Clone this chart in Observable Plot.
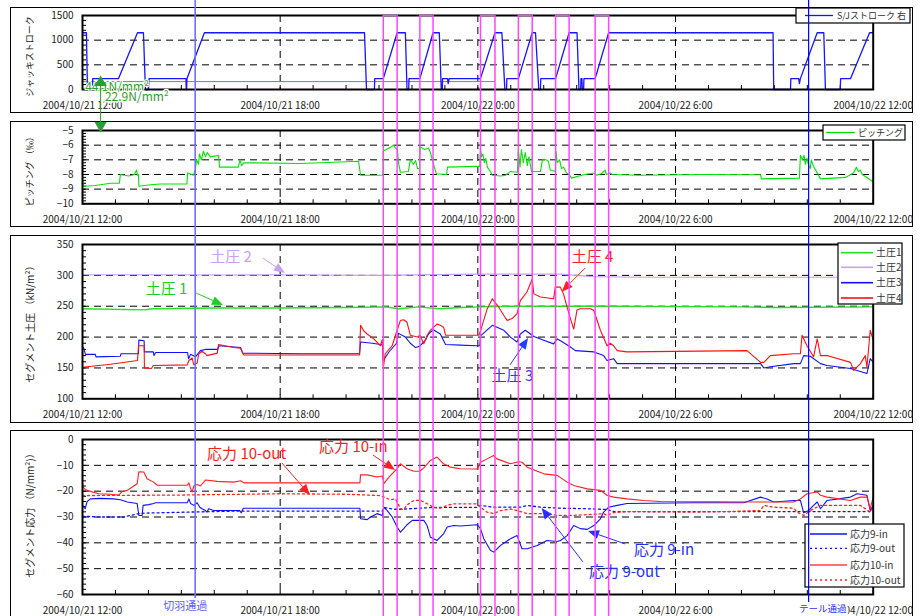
<!DOCTYPE html>
<html><head><meta charset="utf-8">
<script src="https://cdn.jsdelivr.net/npm/d3@7"></script>
<script src="https://cdn.jsdelivr.net/npm/@observablehq/plot@0.6"></script>
<style>
body{margin:0;background:#fff;}
#root{position:relative;width:924px;height:616px;overflow:hidden;background:#fff;font-family:"Noto Sans CJK JP",sans-serif;}
.frame{position:absolute;border:1.5px solid #000;box-sizing:border-box;background:#fff;}
.panel{position:absolute;left:0;}
</style></head><body><div id="root"></div>
<script>
// ---------- data (hours since 2004/10/21 12:00, value) ----------
const jackStroke = [[0,1150],[0.12,1150],[0.15,0],[0.30,0],[0.31,220],[1.09,220],[1.67,1150],[1.85,1150],[1.91,0],[2.00,0],[2.02,220],[3.14,220],[3.15,0],[3.16,0],[3.17,220],[3.70,1150],[8.56,1150],[8.62,0],[8.86,0],[8.87,220],[9.13,220],[9.55,1150],[9.80,1150],[9.85,0],[9.90,0],[9.91,220],[10.24,220],[10.64,1150],[10.83,1150],[10.89,0],[10.92,0],[10.93,220],[11.08,220],[11.10,120],[11.13,220],[12.08,220],[12.52,1150],[12.73,1150],[12.82,0],[12.87,0],[12.88,220],[13.23,220],[13.65,1150],[13.75,1150],[13.85,0],[13.90,0],[13.91,220],[14.36,220],[14.77,1150],[15.01,1150],[15.07,0],[15.12,0],[15.13,220],[15.16,220],[15.17,0],[15.21,0],[15.22,220],[15.56,220],[15.97,1150],[20.96,1150],[20.98,0],[21.49,0],[21.50,220],[21.74,220],[21.76,120],[21.79,220],[22.30,1150],[22.50,1150],[22.55,0],[23.00,0],[23.01,220],[23.31,220],[23.89,1150],[24.0,1150]];
const greenRef = [[0,160],[12.5,160]];
const pitching = [[0,-8.0],[0.02,-8.8],[0.39,-8.75],[0.85,-8.6],[1.12,-8.6],[1.15,-8.0],[1.40,-8.1],[1.58,-8.0],[1.64,-7.7],[1.67,-8.05],[1.70,-8.0],[1.71,-8.8],[2.06,-8.7],[2.37,-8.65],[3.17,-8.65],[3.19,-7.9],[3.37,-8.05],[3.43,-7.6],[3.46,-7.0],[3.52,-7.3],[3.55,-6.6],[3.61,-7.0],[3.67,-6.4],[3.73,-6.8],[3.79,-6.5],[3.88,-6.8],[4.00,-6.75],[4.13,-6.7],[4.16,-7.5],[4.73,-7.5],[4.78,-7.0],[4.83,-7.4],[4.89,-7.2],[6.62,-7.25],[7.83,-7.15],[8.38,-7.1],[8.44,-8.05],[9.12,-8.05],[9.13,-6.4],[9.22,-6.3],[9.35,-6.15],[9.44,-6.0],[9.50,-6.2],[9.56,-6.3],[9.59,-7.2],[9.65,-7.85],[9.89,-7.8],[9.95,-7.0],[10.05,-7.3],[10.11,-7.05],[10.17,-7.6],[10.23,-7.6],[10.24,-6.1],[10.38,-6.3],[10.50,-6.2],[10.56,-6.5],[10.62,-7.0],[10.68,-7.5],[10.74,-7.95],[11.05,-8.0],[11.08,-7.5],[11.96,-7.45],[12.06,-7.45],[12.08,-6.2],[12.11,-6.8],[12.15,-6.6],[12.20,-7.2],[12.24,-6.9],[12.29,-7.5],[12.38,-7.8],[12.44,-8.05],[12.69,-8.1],[12.84,-8.05],[12.99,-7.8],[13.20,-7.85],[13.23,-6.3],[13.28,-7.5],[13.32,-6.3],[13.38,-7.2],[13.44,-6.5],[13.50,-7.4],[13.55,-6.8],[13.63,-7.8],[13.90,-7.8],[13.96,-7.0],[14.08,-7.0],[14.14,-7.1],[14.20,-7.7],[14.35,-7.8],[14.37,-6.4],[14.41,-7.2],[14.48,-7.0],[14.54,-7.6],[14.60,-7.5],[14.69,-7.9],[14.78,-8.0],[14.84,-8.25],[15.24,-8.0],[15.54,-7.9],[15.60,-8.05],[15.75,-7.95],[15.86,-7.7],[15.90,-8.0],[16.02,-7.9],[16.08,-8.0],[16.93,-8.05],[18.76,-8.0],[20.58,-8.02],[20.61,-8.3],[21.76,-8.25],[21.79,-6.7],[21.85,-7.0],[21.90,-6.7],[21.94,-7.3],[21.99,-6.9],[22.03,-7.3],[22.09,-7.6],[22.12,-7.0],[22.18,-7.4],[22.40,-8.3],[23.16,-8.2],[23.40,-7.9],[23.49,-7.5],[23.55,-7.8],[23.61,-7.7],[23.67,-8.0],[24.0,-8.5]];
const soil1 = [[0,246],[1.9,244],[2.1,246],[4,247],[6,247],[8,248],[9.2,249],[9.6,246],[10.2,249],[10.8,246],[11.5,248],[12.1,249],[13,250],[16,250],[20,249],[21,248],[24,249]];
const soil2 = [[0,301],[2,301],[4.5,300.5],[6,301],[9,300],[12,302],[14.5,302],[15.5,298],[17,297],[24,297]];
const soil3 = [[0,183],[0.03,183],[0.09,172],[0.39,172],[0.41,168],[1.15,169],[1.17,173],[1.70,173],[1.71,195],[1.87,194],[1.88,176],[2.15,176],[2.17,170],[2.22,175],[3.19,175],[3.22,165],[3.28,172],[3.43,168],[3.58,178],[3.73,180],[4.11,180],[4.13,186],[4.80,183],[4.86,174],[6.62,173],[8.41,173],[8.44,192],[8.80,190],[9.04,188],[9.12,187],[9.13,162],[9.29,175],[9.53,190],[9.59,206],[9.80,200],[9.95,190],[10.11,183],[10.23,185],[10.41,195],[10.50,205],[10.65,212],[10.86,205],[11.02,188],[11.47,187],[11.96,186],[12.06,186],[12.08,202],[12.44,219],[12.79,211],[12.99,200],[13.19,192],[13.29,205],[13.44,211],[13.70,201],[14.00,195],[14.30,189],[14.41,197],[14.51,194],[14.81,184],[14.96,178],[15.52,176],[15.82,170],[15.92,162],[16.12,165],[16.23,157],[17.95,157],[20.58,157],[20.68,150],[20.88,152],[21.59,157],[21.79,157],[21.89,170],[22.09,169],[22.40,157],[22.60,154],[23.31,149],[23.81,141],[23.91,165],[24.0,159]];
const soil4 = [[0,151],[0.85,156],[1.67,162],[1.70,186],[1.87,186],[1.88,150],[2.09,149],[2.15,154],[3.18,155],[3.23,162],[3.33,166],[3.38,155],[3.48,158],[3.53,173],[3.63,177],[3.73,173],[3.78,170],[4.09,174],[4.13,188],[4.59,183],[4.80,182],[4.88,172],[4.90,171],[8.41,171],[8.44,219],[8.54,210],[8.64,205],[8.84,197],[9.04,186],[9.10,196],[9.13,150],[9.19,173],[9.40,186],[9.55,211],[9.65,227],[9.75,228],[9.85,224],[9.95,203],[10.16,200],[10.24,203],[10.36,189],[10.46,203],[10.56,211],[10.66,216],[10.76,221],[10.86,219],[10.96,216],[11.02,203],[11.47,203],[12.03,203],[12.08,210],[12.28,245],[12.44,262],[12.48,259],[12.64,248],[12.79,235],[12.89,227],[13.04,230],[13.19,238],[13.29,259],[13.49,273],[13.65,294],[13.70,270],[13.90,265],[14.30,262],[14.35,281],[14.50,281],[14.60,270],[14.71,248],[14.81,230],[14.91,213],[15.01,244],[15.11,246],[15.42,246],[15.52,243],[15.72,211],[15.92,186],[16.02,190],[16.12,186],[16.23,178],[16.53,176],[20.17,178],[20.58,159],[20.68,159],[20.88,170],[21.59,173],[21.79,173],[21.84,203],[21.99,186],[22.19,168],[22.30,197],[22.40,170],[22.60,170],[23.31,159],[23.41,146],[23.61,157],[23.76,170],[23.81,151],[23.91,211],[24.0,195]];
const stress9in = [[0,-25.5],[0.08,-26.8],[0.14,-24],[0.24,-23],[0.55,-22.8],[0.95,-23],[1.15,-23.3],[1.36,-24.2],[1.66,-24.8],[1.71,-29.4],[1.81,-29.4],[1.84,-25.5],[2.01,-25.2],[2.16,-24.8],[2.22,-24.5],[3.18,-24.5],[3.23,-23],[3.28,-24.8],[3.38,-25.5],[3.48,-24.5],[3.56,-26.2],[3.63,-26.8],[3.73,-27.5],[3.78,-28.1],[3.83,-26.8],[3.98,-27.5],[4.77,-27.5],[4.82,-28.4],[4.88,-26.6],[8.42,-26.6],[8.44,-30.7],[8.64,-31],[8.74,-30],[8.94,-28.7],[9.10,-29.4],[9.15,-26.2],[9.25,-27.5],[9.40,-30],[9.55,-33.9],[9.65,-35.9],[9.75,-34.5],[9.85,-33],[10.01,-31.3],[10.36,-31.3],[10.46,-33.3],[10.56,-37.8],[10.66,-38.4],[10.76,-39.1],[10.86,-37.8],[10.96,-36.5],[11.07,-33.9],[11.27,-33.3],[11.47,-33.5],[11.98,-33],[12.08,-34.5],[12.18,-38.4],[12.38,-42.9],[12.48,-43.6],[12.69,-41],[12.99,-38.4],[13.19,-37.2],[13.34,-42.3],[13.50,-42.3],[13.80,-41],[14.10,-39.1],[14.41,-39.5],[14.51,-39.1],[14.71,-37.2],[14.91,-33.3],[15.11,-34.5],[15.32,-34.8],[15.52,-33.3],[15.72,-30.7],[15.82,-28.1],[15.97,-26.2],[16.23,-25.5],[16.53,-24.8],[18.55,-24.5],[20.07,-24.5],[20.58,-22.3],[20.78,-23],[20.98,-24.2],[21.59,-23.6],[21.79,-23.6],[21.89,-28.4],[22.04,-27.5],[22.19,-25.5],[22.30,-24.2],[22.40,-26.8],[22.60,-23.6],[23.31,-22.3],[23.51,-21],[23.81,-21.6],[23.91,-27.5],[24.0,-25.5]];
const stress9out = [[0,-29.7],[0.55,-30],[1.25,-30],[1.66,-28.8],[1.86,-28.5],[3.58,-28],[4.80,-27.7],[9.10,-27.7],[9.15,-26.3],[9.45,-27],[9.65,-27],[10.66,-26.3],[11.98,-26.3],[12.08,-25.5],[12.48,-26.2],[13.29,-26.2],[13.50,-25.5],[13.90,-26.2],[14.51,-26.6],[15.32,-26.8],[15.92,-27.1],[16.12,-27.9],[24.0,-27.9]];
const stress10in = [[0,-17],[0.05,-19],[0.14,-19.7],[0.49,-21],[0.85,-21.2],[1.10,-21.5],[1.20,-20.2],[1.36,-19.7],[1.51,-18.4],[1.66,-17.1],[1.71,-12.5],[1.86,-12.6],[1.96,-15.2],[2.16,-16.5],[2.27,-17.7],[3.18,-17.7],[3.23,-16.8],[3.28,-19],[3.33,-20.3],[3.38,-18],[3.48,-17.4],[3.58,-18],[3.73,-15.7],[4.09,-16.2],[4.59,-16.5],[4.80,-16],[4.90,-16.8],[8.42,-16.8],[8.44,-13.7],[8.64,-13.7],[8.94,-14.5],[9.10,-14.1],[9.15,-17],[9.35,-13.9],[9.55,-11.3],[9.65,-9.4],[9.85,-11.3],[10.06,-12.3],[10.24,-12.3],[10.36,-11],[10.56,-8.1],[10.76,-6.8],[10.96,-9.4],[11.17,-10.7],[11.47,-11.3],[11.96,-11.4],[11.99,-11.5],[12.03,-10.1],[12.08,-8.8],[12.28,-7.5],[12.48,-6.2],[12.58,-7.5],[12.99,-9.4],[13.24,-8.6],[13.34,-8.8],[13.50,-10.7],[14.00,-13.3],[14.41,-13.9],[14.71,-16.5],[14.91,-17.8],[15.32,-19.1],[15.72,-19.7],[15.92,-21.6],[16.12,-22.3],[16.53,-23],[17.04,-23.6],[17.54,-24],[20.58,-24.2],[21.59,-24.2],[21.79,-23],[21.99,-21],[22.30,-20.3],[22.40,-21.6],[22.60,-22.3],[23.31,-23.6],[23.61,-22.3],[23.81,-22.3],[23.91,-26.8],[24.0,-22.3]];
const stress10out = [[0,-21.7],[3.0,-21.5],[6.0,-21.0],[8.0,-21.2],[9.04,-21.7],[9.15,-22.3],[9.35,-23.3],[9.50,-23],[9.55,-24.2],[9.65,-26.8],[9.75,-27.2],[9.85,-25.3],[10.06,-23.6],[10.26,-23.6],[10.36,-24.2],[10.56,-25.5],[10.66,-26.4],[10.86,-26.6],[11.07,-25.5],[11.27,-24.9],[11.96,-24.9],[12.08,-26.2],[12.28,-28.1],[12.48,-28.7],[12.69,-27.5],[12.99,-26.9],[13.19,-27.5],[13.50,-28.7],[14.10,-28.7],[14.41,-29.4],[14.81,-29.4],[15.32,-29.1],[15.82,-28.7],[15.92,-29.4],[16.12,-28.3],[16.53,-27.9],[18.55,-28.1],[19.56,-27.9],[20.58,-27.5],[20.68,-25.5],[20.98,-26.2],[21.59,-26.6],[21.69,-28.1],[21.89,-29.4],[22.09,-27.5],[22.40,-25.5],[22.60,-25.5],[23.61,-25.5],[23.91,-28.1],[24.0,-26.2]];

// events (hours)
const cutPairs = [[9.13,9.55],[10.24,10.64],[12.08,12.52],[13.23,13.65],[14.36,14.77],[15.56,15.97]];
const passEvents = [{label:"切羽通過", h:3.42}, {label:"テール通過", h:22.04}];

// tick labels & names
const yTitles = ["ジャッキストローク", "ピッチング （‰）", "セグメント土圧 （kN/m²）", "セグメント応力 （N/mm²)）"];
const jackName = "S/Jストローク 右", pitchName = "ピッチング";
const soilNames = ["土圧1","土圧2","土圧3","土圧4"];
const stressNames = ["応力9-in","応力9-out","応力10-in","応力10-out"];
const greenNotes = [{label:"44.1N/mm²", h:1.05}, {label:"22.9N/mm²", h:1.65}];
const greenArrowH = 0.55;
const soilNotes = [
 {text:"土圧 2", h:4.51, v:329, color:"#c8a0f0", from:[5.49,327], to:[6.16,303]},
 {text:"土圧 1", h:2.55, v:277, color:"#22cc22", from:[3.46,270.6], to:[4.28,251.2]},
 {text:"土圧 4", h:15.48, v:329, color:"#ff2020", from:[15.27,311], to:[14.56,272.7]},
 {text:"土圧 3", h:13.05, v:136, color:"#2040ff", from:[12.99,154], to:[13.54,197.7]}];
const stressNotes = [
 {text:"応力 10-out", h:4.98, v:-5.8, color:"#ff2020", from:[6.07,-9.3], to:[6.92,-21.7]},
 {text:"応力 10-in", h:8.22, v:-3.0, color:"#ff2020", from:[8.83,-6.2], to:[9.50,-12.0]},
 {text:"応力 9-in", h:17.65, v:-43, color:"#2030ff", from:[16.48,-40.6], to:[15.36,-35.6]},
 {text:"応力 9-out", h:16.45, v:-51.4, color:"#2030ff", from:[15.2,-47.5], to:[13.95,-26.7]}];

// ---------- helpers ----------
const T0 = Date.UTC(2004, 9, 21, 12);
const t = h => new Date(T0 + h * 3600e3);
const rows = a => a.map(([h, v]) => ({t: t(h), v}));
const fmt = d3.utcFormat("%Y/%m/%d %-H:%M");
const W = 924, ML = 82, MR = 51.3, innerW = W - ML - MR;
const hourTicks = d3.range(0, 25).map(t);
const labelTicks = [0, 6, 12, 18, 24].map(t);
const gridTicks = [6, 12, 18].map(t);
const FONT = "'Noto Sans CJK JP', sans-serif";
const MAG = "#ff44ff";

function legendMark(svgTop, box, items, o) {
  return () => {
    const g = d3.create("svg:g").attr("font-family", FONT).attr("text-anchor", "start");
    g.append("rect").attr("x", box.x).attr("y", box.y - svgTop).attr("width", box.w).attr("height", box.h)
      .attr("fill", "white").attr("stroke", "#000").attr("stroke-width", 1.2);
    for (const r of items) {
      const y = r.y - svgTop;
      g.append("line").attr("x1", o.lx1).attr("x2", o.lx2).attr("y1", y).attr("y2", y)
        .attr("stroke", r.color).attr("stroke-width", r.width || 1.3).attr("stroke-dasharray", r.dash || null);
      g.append("text").attr("x", o.tx).attr("y", y).attr("dy", "0.36em").attr("font-size", o.fs)
        .attr("text-anchor", "start").attr("fill", "#333").text(r.label);
    }
    return g.node();
  };
}
function arrowsMark(notes) {
  return (index, {x, y}) => {
    const g = d3.create("svg:g");
    for (const n of notes) {
      const x1 = x(t(n.from[0])), y1 = y(n.from[1]), x2 = x(t(n.to[0])), y2 = y(n.to[1]);
      const a = Math.atan2(y2 - y1, x2 - x1), L = 11, Wd = 4.5;
      const bx = x2 - L * Math.cos(a), by = y2 - L * Math.sin(a);
      g.append("line").attr("x1", x1).attr("y1", y1).attr("x2", bx).attr("y2", by)
        .attr("stroke", n.color).attr("stroke-width", 1);
      g.append("path").attr("fill", n.color)
        .attr("d", `M${x2},${y2}L${bx - Wd * Math.sin(a)},${by + Wd * Math.cos(a)}L${bx + Wd * Math.sin(a)},${by - Wd * Math.cos(a)}Z`);
    }
    return g.node();
  };
}
function eventMarks(mt, mb, first, last) {
  const cutTimes = cutPairs.flat().map(h => ({t: t(h)}));
  const m = [
    Plot.ruleX(cutTimes, {x: "t", stroke: MAG, strokeWidth: 1.5, insetTop: first ? 0 : -mt, insetBottom: -mb})
  ];
  if (first) m.push(Plot.ruleY(cutPairs.map(([a, b]) => ({a: t(a), b: t(b)})), {x1: "a", x2: "b", y: 1500, stroke: MAG, strokeWidth: 1.5}));
  m.push(Plot.ruleX([passEvents[0]], {x: d => t(d.h), stroke: "#7070ff", strokeWidth: 1.6, insetTop: -mt, insetBottom: last ? -4 : -mb}));
  m.push(Plot.ruleX([passEvents[1]], {x: d => t(d.h), stroke: "#0000ff", strokeWidth: 1.2, insetTop: -mt, insetBottom: last ? -8 : -mb}));
  return m;
}
function panel(cfg) {
  const {top, height, mt, mb, yDomain, yTicks, yGrid, yMinor, title, marks} = cfg;
  const innerH = height - mt - mb;
  const svg = Plot.plot({
    width: W, height, marginTop: mt, marginBottom: mb, marginLeft: ML, marginRight: MR,
    x: {type: "utc", domain: [t(0), t(24)]},
    y: {domain: yDomain},
    style: `background: transparent; overflow: visible; font-family: ${FONT}; font-size: 10px; color: #222;`,
    marks: [
      Plot.gridX(gridTicks, {stroke: "#000", strokeOpacity: 1, strokeDasharray: "7,5"}),
      Plot.gridY(yGrid, {stroke: "#000", strokeOpacity: 1, strokeDasharray: "7,5"}),
      Plot.tickX(hourTicks, {x: d => d, insetTop: innerH - 4, stroke: "#000"}),
      Plot.tickY(yMinor, {y: d => d, insetRight: innerW - 4, stroke: "#000"}),
      Plot.axisX(labelTicks, {tickSize: 0, tickPadding: 12, tickFormat: fmt, fontSize: 10, label: null}),
      Plot.axisY(yTicks, {tickSize: 0, tickPadding: 9, fontSize: 10, label: null, tickFormat: d3.format("d")}),
      Plot.text([title], {frameAnchor: "left", textAnchor: "middle", lineAnchor: "middle", dx: -52, dy: cfg.titleDy || 0, rotate: -90, fontSize: cfg.titleSize || 9.5, fill: "#222"}),
      ...marks(innerH),
      Plot.frame({stroke: "#000", strokeWidth: 2}),
      ...(cfg.overlay ? cfg.overlay(innerH) : [])
    ]
  });
  svg.classList.add("panel");
  svg.style.top = top + "px";
  return svg;
}

const root = document.getElementById("root");
for (const [top, h] of [[7, 106], [121, 106], [235, 188], [430, 190]]) {
  const d = document.createElement("div");
  d.className = "frame";
  Object.assign(d.style, {left: "10px", top: top + "px", width: "903px", height: h + "px"});
  root.appendChild(d);
}

// Panel 1
root.appendChild(panel({
  top: 0, height: 117, mt: 15, mb: 28, yDomain: [0, 1500], yTicks: [0, 500, 1000, 1500], yGrid: [500, 1000],
  yMinor: d3.range(0, 1501, 100), title: yTitles[0], titleSize: 9, titleDy: 4,
  marks: () => [
    Plot.line(rows(greenRef), {x: "t", y: "v", stroke: "#3cb043", strokeWidth: 1}),
    Plot.line(rows(jackStroke), {x: "t", y: "v", stroke: "#1515ff", strokeWidth: 1.3}),
  ],
  overlay: () => [
    Plot.text([greenNotes[0]], {x: d => t(d.h), text: "label", frameAnchor: "bottom", dy: 1, fontSize: 12, fill: "#2e9e2e", stroke: "white", strokeWidth: 2}),
    Plot.text([greenNotes[1]], {x: d => t(d.h), text: "label", frameAnchor: "bottom", dy: 11, fontSize: 12, fill: "#2e9e2e", stroke: "white", strokeWidth: 3}),
    Plot.ruleX([greenArrowH], {x: d => t(d), y1: 160, y2: 0, insetBottom: -28, stroke: "#2e9e2e", strokeWidth: 1}),
    Plot.dot([greenArrowH], {x: d => t(d), y: 160, symbol: "triangle", r: 4.5, fill: "#2e9e2e", stroke: "none", dy: 1}),
    legendMark(0, {x: 796, y: 8, w: 114, h: 15}, [{label: jackName, color: "#1515ff", y: 15.5}], {lx1: 805, lx2: 833, tx: 837, fs: 9}),
    ...eventMarks(15, 28, true, false)
  ]
}));

// Panel 2
root.appendChild(panel({
  top: 117, height: 114, mt: 13, mb: 27.7, yDomain: [-10, -5], yTicks: [-10, -9, -8, -7, -6, -5], yGrid: [-9, -8, -7, -6],
  yMinor: d3.range(-10, -4.99, 0.2), title: yTitles[1], titleSize: 9, titleDy: 2,
  marks: () => [Plot.line(rows(pitching), {x: "t", y: "v", stroke: "#00e600", strokeWidth: 1.1})],
  overlay: () => [
    Plot.ruleX([greenArrowH], {x: d => t(d), y1: -5, y2: -5, insetTop: -13, stroke: "#2e9e2e", strokeWidth: 1}),
    Plot.dot([greenArrowH], {x: d => t(d), y: -5, symbol: "triangle", rotate: 180, r: 4.5, fill: "#2e9e2e", stroke: "none", dy: -5}),
    legendMark(117, {x: 823, y: 125, w: 82, h: 15}, [{label: pitchName, color: "#00e600", y: 132.5}], {lx1: 826, lx2: 855, tx: 858, fs: 9}),
    ...eventMarks(13, 27.7, false, false)
  ]
}));

// Panel 3
const soilColors = ["#22e022", "#c8a0f0", "#1010ff", "#ff1010"];
root.appendChild(panel({
  top: 231, height: 195, mt: 13, mb: 27.7, yDomain: [100, 350], yTicks: [100, 150, 200, 250, 300, 350], yGrid: [150, 200, 250, 300, 350],
  yMinor: d3.range(100, 351, 10), title: yTitles[2], titleSize: 10,
  marks: () => [soil1, soil2, soil3, soil4].map((s, i) => Plot.line(rows(s), {x: "t", y: "v", stroke: soilColors[i], strokeWidth: i === 0 ? 1.4 : 1.1})),
  overlay: () => [
    Plot.text(soilNotes, {x: d => t(d.h), y: "v", text: "text", fill: "color", fontSize: 15}),
    arrowsMark(soilNotes),
    legendMark(231, {x: 838, y: 243, w: 64, h: 61},
      soilNames.map((n, i) => ({label: n, color: soilColors[i], y: [252.7, 267.3, 282.7, 298][i], width: 1.6})),
      {lx1: 841, lx2: 873, tx: 876, fs: 10}),
    ...eventMarks(13, 27.7, false, false)
  ]
}));

// Panel 4
const stressStyles = [
  {color: "#1010ff", dash: null}, {color: "#1010ff", dash: "2,3"},
  {color: "#ff2020", dash: null}, {color: "#ff2020", dash: "2,3"}];
root.appendChild(panel({
  top: 426, height: 190, mt: 13, mb: 22, yDomain: [-60, 0], yTicks: [-60, -50, -40, -30, -20, -10, 0], yGrid: [-50, -40, -30, -20, -10],
  yMinor: d3.range(-60, 1, 2), title: yTitles[3], titleSize: 10, titleDy: -4,
  marks: () => [stress9in, stress9out, stress10in, stress10out].map((s, i) =>
    Plot.line(rows(s), {x: "t", y: "v", stroke: stressStyles[i].color, strokeWidth: stressStyles[i].dash ? 1.3 : 1.1, strokeDasharray: stressStyles[i].dash})),
  overlay: () => [
    Plot.text(stressNotes, {x: d => t(d.h), y: "v", text: "text", fill: "color", fontSize: 15}),
    arrowsMark(stressNotes),
    legendMark(426, {x: 805, y: 524, w: 99, h: 63},
      stressNames.map((n, i) => ({label: n, color: i === 2 ? "#ff7070" : stressStyles[i].color, dash: stressStyles[i].dash, y: [534, 548.3, 565, 580][i], width: i === 2 ? 2 : 1.3})),
      {lx1: 810, lx2: 847, tx: 850, fs: 10}),
    ...eventMarks(13, 22, false, true),
    Plot.text([passEvents[0]], {x: d => t(d.h), text: "label", frameAnchor: "bottom", dy: 15, dx: -10, fontSize: 11, fill: "#6060ff"}),
    Plot.text([passEvents[1]], {x: d => t(d.h), text: "label", frameAnchor: "bottom", dy: 17, dx: 14, fontSize: 9.5, fill: "#3030ff", stroke: "white", strokeWidth: 4})
  ]
}));
</script></body></html>
